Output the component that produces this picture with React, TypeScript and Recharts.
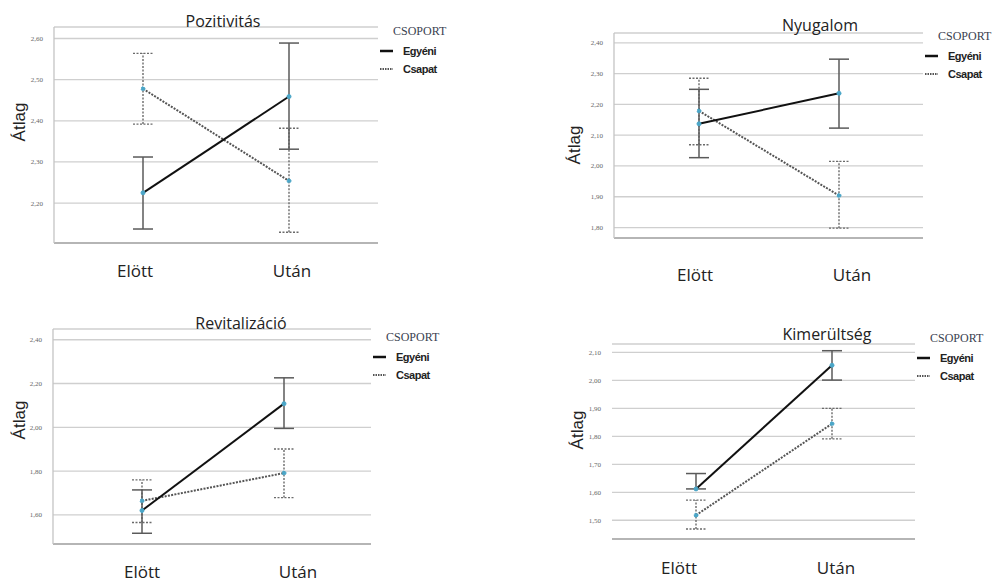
import { CartesianGrid, ErrorBar, Line, LineChart, XAxis, YAxis } from 'recharts';

const timePoints = ['Elött', 'Után'];
const groupNames = ['Egyéni', 'Csapat'];

// Pozitivitás
const pozEgyeniMean = [2.225, 2.459];
const pozEgyeniLow = [2.137, 2.331];
const pozEgyeniHigh = [2.312, 2.589];
const pozCsapatMean = [2.478, 2.254];
const pozCsapatLow = [2.392, 2.129];
const pozCsapatHigh = [2.564, 2.382];
const pozTicks = [2.2, 2.3, 2.4, 2.5, 2.6];

// Nyugalom
const nyuEgyeniMean = [2.137, 2.236];
const nyuEgyeniLow = [2.027, 2.123];
const nyuEgyeniHigh = [2.249, 2.347];
const nyuCsapatMean = [2.179, 1.904];
const nyuCsapatLow = [2.069, 1.798];
const nyuCsapatHigh = [2.285, 2.015];
const nyuTicks = [1.8, 1.9, 2.0, 2.1, 2.2, 2.3, 2.4];

// Revitalizáció
const revEgyeniMean = [1.62, 2.108];
const revEgyeniLow = [1.516, 1.995];
const revEgyeniHigh = [1.714, 2.226];
const revCsapatMean = [1.664, 1.791];
const revCsapatLow = [1.565, 1.679];
const revCsapatHigh = [1.76, 1.901];
const revTicks = [1.6, 1.8, 2.0, 2.2, 2.4];

// Kimerültség
const kimEgyeniMean = [1.612, 2.054];
const kimEgyeniLow = [1.612, 2.001];
const kimEgyeniHigh = [1.667, 2.106];
const kimCsapatMean = [1.518, 1.845];
const kimCsapatLow = [1.469, 1.791];
const kimCsapatHigh = [1.572, 1.9];
const kimTicks = [1.5, 1.6, 1.7, 1.8, 1.9, 2.0, 2.1];

const buildRows = (
  eMean: number[], eLow: number[], eHigh: number[],
  cMean: number[], cLow: number[], cHigh: number[],
) =>
  timePoints.map((time, i) => ({
    time,
    egyeni: eMean[i],
    egyeniErr: [eMean[i] - eLow[i], eHigh[i] - eMean[i]],
    csapat: cMean[i],
    csapatErr: [cMean[i] - cLow[i], cHigh[i] - cMean[i]],
  }));

const fmt = (v: number) => v.toFixed(2).replace('.', ',');

interface PanelProps {
  title: string;
  rows: ReturnType<typeof buildRows>;
  ticks: number[];
  domain: [number, number];
  plot: { left: number; right: number; top: number; bottom: number };
  pad: [number, number];
  labelDx: [number, number];
  labelDy: number;
  titlePos: [number, number];
  yLabelPos: [number, number];
  legendPos: [number, number];
  showYAxisLine?: boolean;
}

const DOT = { r: 2, fill: '#4aa6c8', stroke: '#4aa6c8', strokeWidth: 1 };

function Panel(p: PanelProps) {
  const width = p.plot.right - p.plot.left + 70;
  const height = p.plot.bottom - p.plot.top + 60;
  return (
    <>
      <div style={{ position: 'absolute', left: p.plot.left - 60, top: p.plot.top - 10 }}>
        <LineChart width={width} height={height} data={p.rows} margin={{ top: 10, right: 10, bottom: 0, left: 0 }}>
          <CartesianGrid vertical={false} stroke="#cfcfcf" strokeWidth={1.3} />
          <XAxis
            dataKey="time"
            height={50}
            padding={{ left: p.pad[0], right: p.pad[1] }}
            axisLine={{ stroke: '#a8a8a8', strokeWidth: 1.3 }}
            tickLine={false}
            tickSize={0}
            tickMargin={0}
            tick={({ x, y, index, payload }: any) => (
              <text
                x={x + p.labelDx[index]}
                y={y + p.labelDy}
                textAnchor="middle"
                dominantBaseline="central"
                fontFamily="'Open Sans', sans-serif"
                fontSize={17}
                fill="#222"
              >
                {payload.value}
              </text>
            )}
          />
          <YAxis
            width={60}
            type="number"
            domain={p.domain}
            ticks={p.ticks}
            allowDataOverflow
            axisLine={p.showYAxisLine === false ? false : { stroke: '#c4c4c4', strokeWidth: 1.3 }}
            tickLine={false}
            tickSize={0}
            tickMargin={11}
            tickFormatter={fmt}
            tick={{ fontSize: 7, fill: '#666', fontFamily: "'Liberation Serif', serif" }}
          />
          <Line
            dataKey="csapat"
            stroke="#555"
            strokeWidth={2}
            strokeDasharray="2 1.3"
            dot={DOT}
            activeDot={false}
            isAnimationActive={false}
          >
            <ErrorBar
              dataKey="csapatErr"
              direction="y"
              width={10}
              stroke="#6a6a6a"
              strokeWidth={1.4}
              strokeDasharray="2 1.5"
              isAnimationActive={false}
            />
          </Line>
          <Line
            dataKey="egyeni"
            stroke="#111"
            strokeWidth={2}
            dot={DOT}
            activeDot={false}
            isAnimationActive={false}
          >
            <ErrorBar
              dataKey="egyeniErr"
              direction="y"
              width={10}
              stroke="#5a5a5a"
              strokeWidth={1.5}
              isAnimationActive={false}
            />
          </Line>
        </LineChart>
      </div>
      <div
        style={{
          position: 'absolute',
          left: p.titlePos[0],
          top: p.titlePos[1],
          transform: 'translate(-50%, -50%)',
          fontFamily: "'Open Sans', sans-serif",
          fontSize: 16,
          color: '#222',
          whiteSpace: 'nowrap',
        }}
      >
        {p.title}
      </div>
      <div
        style={{
          position: 'absolute',
          left: p.yLabelPos[0],
          top: p.yLabelPos[1],
          transform: 'translate(-50%, -50%) rotate(-90deg)',
          fontFamily: "'Liberation Sans', Arial, sans-serif",
          fontSize: 17,
          color: '#222',
          whiteSpace: 'nowrap',
        }}
      >
        Átlag
      </div>
      <div style={{ position: 'absolute', left: p.legendPos[0], top: p.legendPos[1], whiteSpace: 'nowrap' }}>
        <div
          style={{
            position: 'absolute',
            left: 13,
            top: -8,
            fontFamily: "'Liberation Serif', serif",
            fontSize: 12,
            color: '#3a4150',
          }}
        >
          CSOPORT
        </div>
        {groupNames.map((name, i) => (
          <div key={name} style={{ position: 'absolute', left: 0, top: 19 + i * 18 - 7, height: 14, display: 'flex', alignItems: 'center' }}>
            <svg width={14} height={12} style={{ display: 'block' }}>
              <line
                x1={0}
                x2={13}
                y1={6}
                y2={6}
                stroke={i === 0 ? '#111' : '#555'}
                strokeWidth={i === 0 ? 2.5 : 2}
                strokeDasharray={i === 0 ? undefined : '1.5 1'}
              />
            </svg>
            <span
              style={{
                marginLeft: 9,
                fontFamily: "'Liberation Sans', Arial, sans-serif",
                fontWeight: 'bold',
                fontSize: 11,
                letterSpacing: -0.5,
                color: '#222',
              }}
            >
              {name}
            </span>
          </div>
        ))}
      </div>
    </>
  );
}

export default function App() {
  return (
    <div style={{ position: 'fixed', left: 0, top: 0, width: 992, height: 582, background: '#fff', overflow: 'hidden' }}>
      <Panel
        title="Pozitivitás"
        rows={buildRows(pozEgyeniMean, pozEgyeniLow, pozEgyeniHigh, pozCsapatMean, pozCsapatLow, pozCsapatHigh)}
        ticks={pozTicks}
        domain={[2.103, 2.628]}
        plot={{ left: 54, right: 378, top: 27, bottom: 243 }}
        pad={[89, 89]}
        labelDx={[-8, 3]}
        labelDy={27}
        titlePos={[223, 21]}
        yLabelPos={[20, 122]}
        legendPos={[380, 32]}
      />
      <Panel
        title="Nyugalom"
        rows={buildRows(nyuEgyeniMean, nyuEgyeniLow, nyuEgyeniHigh, nyuCsapatMean, nyuCsapatLow, nyuCsapatHigh)}
        ticks={nyuTicks}
        domain={[1.766, 2.432]}
        plot={{ left: 614, right: 923, top: 33, bottom: 238 }}
        pad={[85, 84]}
        labelDx={[-4, 13]}
        labelDy={36}
        titlePos={[820, 25]}
        yLabelPos={[575, 145]}
        legendPos={[925, 37]}
      />
      <Panel
        title="Revitalizáció"
        rows={buildRows(revEgyeniMean, revEgyeniLow, revEgyeniHigh, revCsapatMean, revCsapatLow, revCsapatHigh)}
        ticks={revTicks}
        domain={[1.467, 2.449]}
        plot={{ left: 53, right: 371, top: 329, bottom: 544 }}
        pad={[89, 87]}
        labelDx={[0, 14]}
        labelDy={27}
        titlePos={[241, 323]}
        yLabelPos={[20, 420]}
        legendPos={[373, 338]}
      />
      <Panel
        title="Kimerültség"
        rows={buildRows(kimEgyeniMean, kimEgyeniLow, kimEgyeniHigh, kimCsapatMean, kimCsapatLow, kimCsapatHigh)}
        ticks={kimTicks}
        domain={[1.433, 2.13]}
        plot={{ left: 612, right: 915, top: 344, bottom: 539 }}
        pad={[84, 83]}
        labelDx={[-17, 4]}
        labelDy={28}
        titlePos={[827, 334]}
        yLabelPos={[578, 430]}
        legendPos={[917, 339]}
        showYAxisLine={false}
      />
    </div>
  );
}
